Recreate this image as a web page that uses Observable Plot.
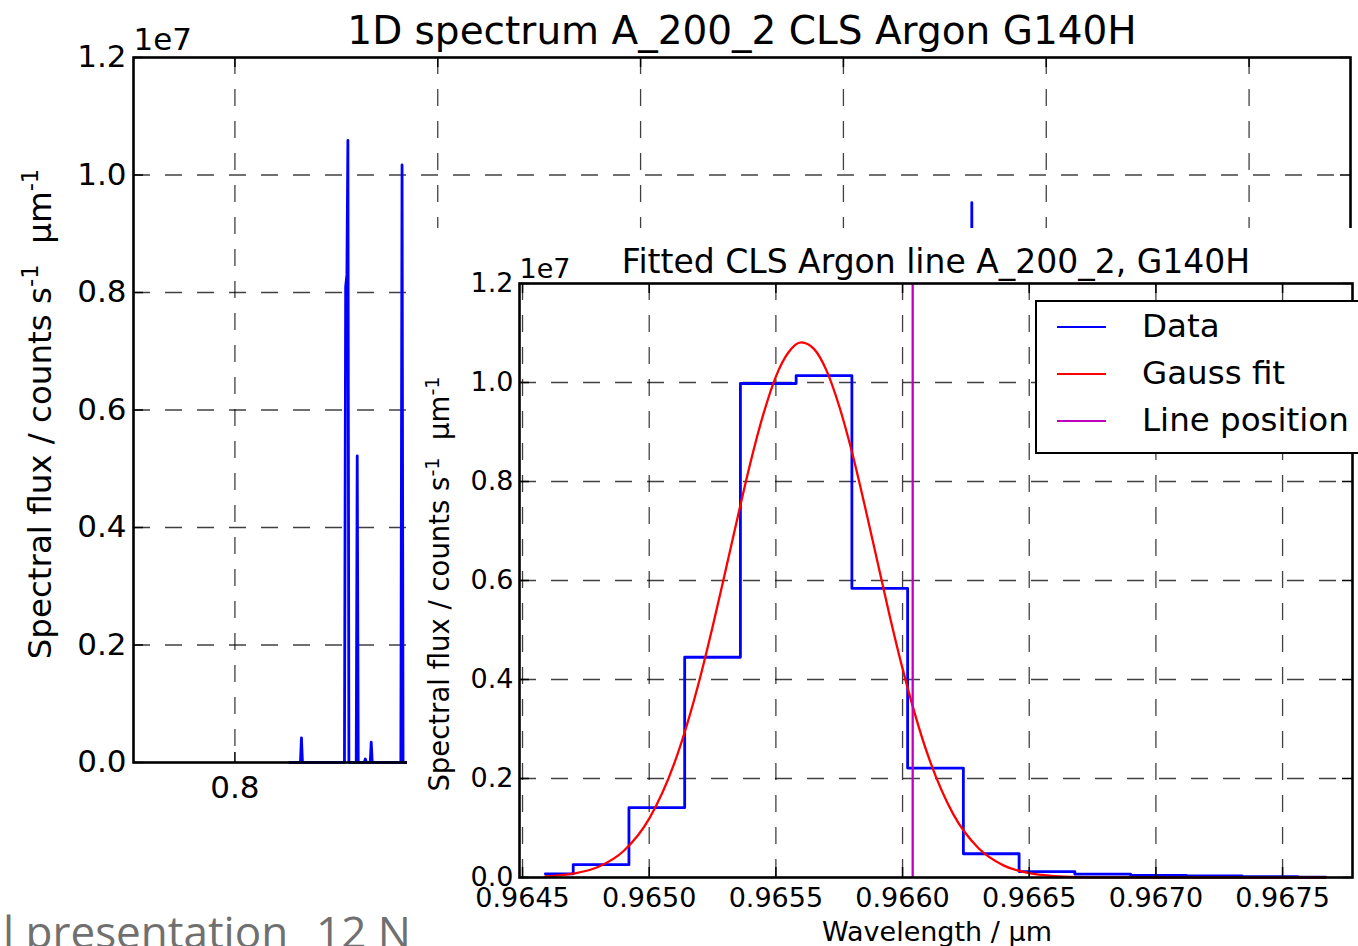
<!DOCTYPE html>
<html><head><meta charset="utf-8">
<script src="https://cdn.jsdelivr.net/npm/d3@7"></script>
<script src="https://cdn.jsdelivr.net/npm/@observablehq/plot@0.6"></script>
<style>
body{margin:0;background:#fff;}
#wrap{position:relative;width:1358px;height:946px;overflow:hidden;background:#fff;font-family:"DejaVu Sans",sans-serif;}
.abs{position:absolute;white-space:nowrap;color:#000;line-height:1;}
sup{font-size:0.7em;vertical-align:0.55em;line-height:0;}
</style></head><body><div id="wrap"></div>
<script>
// ---------- data ----------
const mainTitle = "1D spectrum A_200_2 CLS Argon G140H";
const insetTitle = "Fitted CLS Argon line A_200_2, G140H";
// full 1D spectrum (wavelength µm, flux counts/s/µm)
const mainWave = [0.8270, 0.8323, 0.8328, 0.8333, 0.8540, 0.8546, 0.8552, 0.8557, 0.8562, 0.8598, 0.8603, 0.8608, 0.8638, 0.8643, 0.8648, 0.8667, 0.8672, 0.8677, 0.8818, 0.8824, 0.8829, 1.1628, 1.1633, 1.1638, 1.3000];
const mainFlux = [0, 0, 0.42e6, 0, 0, 8.1e6, 8.3e6, 10.59e6, 0, 0, 5.22e6, 0, 0, 0.06e6, 0, 0, 0.345e6, 0, 0, 10.17e6, 0, 0, 9.53e6, 0, 0];
const mainXTicks = [0.8, 0.9, 1.0, 1.1, 1.2, 1.3];
const yTicks = [0, 0.2e7, 0.4e7, 0.6e7, 0.8e7, 1.0e7, 1.2e7];
// zoomed line
const insetXTicks = [0.9645, 0.9650, 0.9655, 0.9660, 0.9665, 0.9670, 0.9675];
const dataWave = [0.96459, 0.96481, 0.96503, 0.96525, 0.96547, 0.96569, 0.96591, 0.96613, 0.96635, 0.96657, 0.96679, 0.96701, 0.96723, 0.96745, 0.96767];
const dataFlux = [0.075e6, 0.26e6, 1.41e6, 4.45e6, 9.98e6, 10.14e6, 5.84e6, 2.21e6, 0.48e6, 0.12e6, 0.067e6, 0.04e6, 0.03e6, 0.015e6, 0.005e6];
const fitWave = [0.96459, 0.9647, 0.9648, 0.9649, 0.9650, 0.9651, 0.9652, 0.96525, 0.9653, 0.96535, 0.9654, 0.96545, 0.9655, 0.96555, 0.9656, 0.96565, 0.9657, 0.96575, 0.9658, 0.96585, 0.9659, 0.96595, 0.9660, 0.9661, 0.9662, 0.9663, 0.9664, 0.9665, 0.9666, 0.9667, 0.9668, 0.9670, 0.9672, 0.9674, 0.96767];
const fitFlux = [0.02e6, 0.078e6, 0.217e6, 0.54e6, 1.19e6, 2.32e6, 4.02e6, 5.06e6, 6.17e6, 7.30e6, 8.39e6, 9.35e6, 10.12e6, 10.61e6, 10.81e6, 10.68e6, 10.24e6, 9.52e6, 8.60e6, 7.53e6, 6.40e6, 5.27e6, 4.22e6, 2.47e6, 1.28e6, 0.59e6, 0.24e6, 0.086e6, 0.028e6, 0.008e6, 0.002e6, 0, 0, 0, 0];
const linePosition = [0.96604];
const legendLabels = ["Data", "Gauss fit", "Line position"];
const legendColors = ["#0000ff", "#ff0000", "#bf00bf"];

// ---------- helpers ----------
const wrap = document.getElementById("wrap");
const gridStyle = {stroke: "#000", strokeOpacity: 0.75, strokeWidth: 1.3, strokeDasharray: "17,15"};
const tickStyle = {stroke: "#000", strokeWidth: 1.5};
const fmt1 = d => (d / 1e7).toFixed(1);

// ---------- main plot ----------
const W = 1358, H = 946, mL = 133, mR = 8, mT = 57, mB = 184;
const fw = W - mL - mR, fh = H - mT - mB;
const mainRows = mainWave.map((w, i) => ({w, f: mainFlux[i]}));
const main = Plot.plot({
  width: W, height: H, marginLeft: mL, marginRight: mR, marginTop: mT, marginBottom: mB,
  style: {fontFamily: "DejaVu Sans", fontSize: "30px", background: "transparent", overflow: "visible", color: "#000"},
  x: {domain: [0.75, 1.35]},
  y: {domain: [0, 1.2e7]},
  marks: [
    Plot.ruleX(mainXTicks, {x: d => d, ...gridStyle}),
    Plot.ruleY(yTicks.slice(1, -1), {y: d => d, ...gridStyle}),
    Plot.line(mainRows, {x: "w", y: "f", stroke: "#0000ff", strokeWidth: 2.8}),
    Plot.frame({stroke: "#000", strokeWidth: 2.6}),
    Plot.tickY(yTicks, {y: d => d, insetRight: fw - 10, ...tickStyle}),
    Plot.tickY(yTicks, {y: d => d, insetLeft: fw - 10, ...tickStyle}),
    Plot.tickX(mainXTicks, {x: d => d, insetBottom: fh - 10, ...tickStyle}),
    Plot.tickX(mainXTicks, {x: d => d, insetTop: fh - 10, ...tickStyle}),
    Plot.axisY(yTicks, {tickFormat: fmt1, tickSize: 0, tickPadding: 7, fontSize: 31, label: null}),
    Plot.axisX(mainXTicks, {tickFormat: d => d.toFixed(1), tickSize: 0, tickPadding: 13, fontSize: 31, label: null}),
    Plot.text([mainTitle], {text: d => d, frameAnchor: "top", lineAnchor: "bottom", dy: -14, fontSize: 39}),
    Plot.text(["1e7"], {text: d => d, frameAnchor: "top-left", textAnchor: "start", lineAnchor: "bottom", dy: -8, fontSize: 31})
  ]
});
main.style.position = "absolute"; main.style.left = "0px"; main.style.top = "0px"; main.style.zIndex = 1;
wrap.appendChild(main);

// background slide text (partially covered)
const bg = document.createElement("div");
bg.className = "abs";
bg.style.cssText = "left:3px;top:909px;font-family:'Open Sans',sans-serif;font-size:44px;color:#707070;z-index:1;white-space:pre;";
bg.innerHTML = "l presentation&nbsp;&nbsp;<span style='margin-left:5px'>12 N</span>";
wrap.appendChild(bg);

// main y label
const ylab = document.createElement("div");
ylab.className = "abs";
ylab.style.cssText = "left:40px;top:414px;font-size:32.5px;transform:translate(-50%,-50%) rotate(-90deg);z-index:1;";
ylab.innerHTML = "Spectral flux / counts s<sup>-1</sup>&nbsp; µm<sup>-1</sup>";
wrap.appendChild(ylab);

// ---------- inset plot ----------
const iW = 951, iH = 718, iL = 112, iR = 6, iT = 55, iB = 69;
const ifw = iW - iL - iR, ifh = iH - iT - iB;
const dataRows = dataWave.map((w, i) => ({w, f: dataFlux[i]}));
const fitRows = fitWave.map((w, i) => ({w, f: fitFlux[i]}));
const inset = Plot.plot({
  width: iW, height: iH, marginLeft: iL, marginRight: iR, marginTop: iT, marginBottom: iB,
  style: {fontFamily: "DejaVu Sans", fontSize: "27px", background: "#fff", overflow: "visible", color: "#000"},
  x: {domain: [0.964488, 0.967776]},
  y: {domain: [0, 1.2e7]},
  marks: [
    Plot.ruleX(insetXTicks, {x: d => d, ...gridStyle}),
    Plot.ruleY(yTicks.slice(1, -1), {y: d => d, ...gridStyle}),
    Plot.line(dataRows, {x: "w", y: "f", curve: "step", stroke: legendColors[0], strokeWidth: 2.8}),
    Plot.line(fitRows, {x: "w", y: "f", curve: "monotone-x", stroke: legendColors[1], strokeWidth: 2.3}),
    Plot.ruleX(linePosition, {x: d => d, stroke: legendColors[2], strokeWidth: 2.3}),
    Plot.frame({stroke: "#000", strokeWidth: 2.6}),
    Plot.tickY(yTicks, {y: d => d, insetRight: ifw - 10, ...tickStyle}),
    Plot.tickY(yTicks, {y: d => d, insetLeft: ifw - 10, ...tickStyle}),
    Plot.tickX(insetXTicks, {x: d => d, insetBottom: ifh - 10, ...tickStyle}),
    Plot.tickX(insetXTicks, {x: d => d, insetTop: ifh - 10, ...tickStyle}),
    Plot.axisY(yTicks, {tickFormat: fmt1, tickSize: 0, tickPadding: 6, fontSize: 27, label: null}),
    Plot.axisX(insetXTicks, {tickFormat: d => d.toFixed(4), tickSize: 0, tickPadding: 10, fontSize: 27, label: null}),
    Plot.text([insetTitle], {text: d => d, frameAnchor: "top", lineAnchor: "bottom", dy: -11, fontSize: 33}),
    Plot.text(["1e7"], {text: d => d, frameAnchor: "top-left", textAnchor: "start", lineAnchor: "bottom", dy: -6, fontSize: 27})
  ]
});
inset.style.position = "absolute"; inset.style.left = "407px"; inset.style.top = "228px"; inset.style.zIndex = 2;
wrap.appendChild(inset);

// inset axis labels
const ixlab = document.createElement("div");
ixlab.className = "abs";
ixlab.style.cssText = "left:937px;top:931px;font-size:27px;transform:translate(-50%,-50%);z-index:3;";
ixlab.textContent = "Wavelength / µm";
wrap.appendChild(ixlab);

const iylab = document.createElement("div");
iylab.className = "abs";
iylab.style.cssText = "left:440px;top:584px;font-size:27.5px;transform:translate(-50%,-50%) rotate(-90deg);z-index:3;";
iylab.innerHTML = "Spectral flux / counts s<sup>-1</sup>&nbsp; µm<sup>-1</sup>";
wrap.appendChild(iylab);

// legend
const leg = document.createElement("div");
leg.className = "abs";
leg.style.cssText = "left:1035px;top:300px;width:360px;height:150px;border:2px solid #000;background:#fff;z-index:4;";
legendLabels.forEach((lab, i) => {
  const ln = document.createElement("div");
  ln.style.cssText = `position:absolute;left:20px;top:${24 + i * 47}px;width:49px;height:0;border-top:2.4px solid ${legendColors[i]};`;
  leg.appendChild(ln);
  const tx = document.createElement("div");
  tx.style.cssText = `position:absolute;left:105px;top:${25 + i * 47}px;font-size:32.5px;line-height:1;transform:translateY(-52%);white-space:nowrap;`;
  tx.textContent = lab;
  leg.appendChild(tx);
});
wrap.appendChild(leg);
</script></body></html>
